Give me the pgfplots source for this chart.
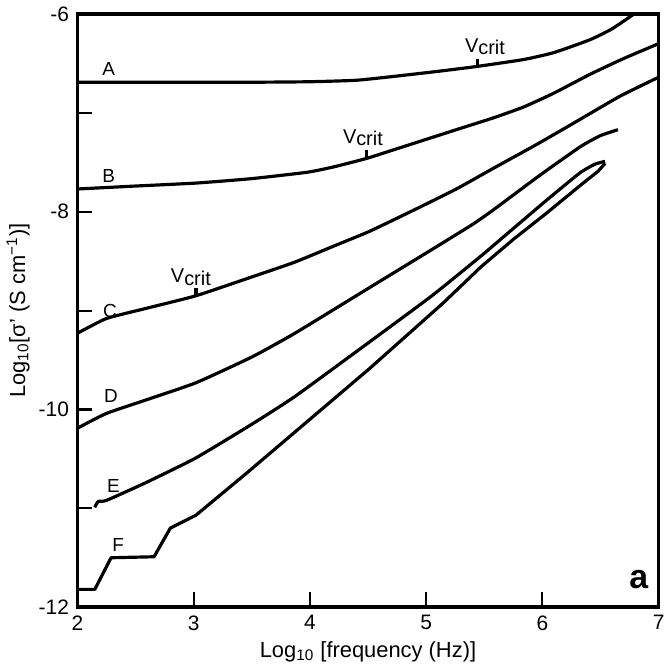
\documentclass[border=0pt]{standalone}
\usepackage{fontspec}
\setmainfont{Liberation Sans}
\usepackage{pgfplots}
\pgfplotsset{compat=1.18}

\newcommand{\vcrit}{V\raisebox{-0.2ex}{crit}}

\begin{document}
\begin{tikzpicture}
\begin{axis}[
  width=292pt, height=298pt, scale only axis,
  xmin=2, xmax=7, ymin=-12, ymax=-6,
  xtick={2,3,4,5,6,7}, xticklabels={2,3,4,5,6,7},
  ytick={-12,-11,-10,-9,-8,-7,-6},
  yticklabels={-12,,-10,,-8,,-6},
  tick pos=left, tick align=inside,
  major tick length=7.5pt,
  tick style={line width=1.1pt, black},
  every axis/.append style={line width=1.8pt},
  axis line style={line width=1.8pt},
  tick label style={font=\fontsize{10.5}{12}\selectfont},
  label style={font=\fontsize{11}{13}\selectfont},
  xlabel={Log\textsubscript{10} [frequency (Hz)]},
  ylabel={Log\textsubscript{10}[σ' (S cm\textsuperscript{−1})]},
  xlabel style={yshift=2pt},
  ylabel style={yshift=-3pt},
  every axis plot/.append style={smooth, tension=0.3},
  every axis plot post/.append style={black, mark=none, line width=1.6pt, line join=round},
  clip=true,
]
% A
\addplot coordinates {(2,-6.69) (2.5,-6.69) (3,-6.69) (3.5,-6.69) (4,-6.685) (4.4,-6.67)
  (4.73,-6.63) (5.1,-6.58) (5.44,-6.53) (5.84,-6.46) (6.1,-6.39) (6.41,-6.26) (6.6,-6.15) (6.8,-5.99)};
% B
\addplot coordinates {(2,-7.77) (2.5,-7.74) (3.02,-7.71) (3.5,-7.665) (3.98,-7.60) (4.21,-7.545)
  (4.49,-7.46) (4.73,-7.37) (5.26,-7.17) (5.58,-7.05) (5.84,-6.94) (6.1,-6.80) (6.41,-6.61)
  (6.7,-6.45) (7,-6.30)};
% C
\addplot coordinates {(2,-9.23) (2.25,-9.08) (2.6,-8.975) (3.02,-8.85) (3.5,-8.66) (3.87,-8.51)
  (4.2,-8.35) (4.51,-8.20) (4.90,-7.98) (5.26,-7.77) (5.58,-7.56) (5.95,-7.32) (6.26,-7.11)
  (6.67,-6.83) (7,-6.64)};
% D
\addplot coordinates {(2,-10.19) (2.25,-10.04) (2.6,-9.90) (3.02,-9.73) (3.5,-9.47) (3.87,-9.23)
  (4.51,-8.77) (4.90,-8.49) (5.15,-8.31) (5.41,-8.12) (5.58,-7.98) (5.98,-7.63) (6.33,-7.34)
  (6.5,-7.23) (6.65,-7.17)};
% E
\addplot coordinates {(2.15,-10.99) (2.18,-10.93) (2.25,-10.92) (2.59,-10.74) (3.02,-10.49)
  (3.5,-10.15) (3.87,-9.87) (4.51,-9.32) (5.05,-8.85) (5.47,-8.45) (5.75,-8.17) (6.03,-7.89)
  (6.32,-7.61) (6.45,-7.52) (6.54,-7.49)};
% F
\addplot[sharp plot] coordinates {(2,-11.82) (2.15,-11.82) (2.29,-11.50) (2.66,-11.49) (2.80,-11.20)
  (3.02,-11.07) (3.44,-10.66) (3.87,-10.23) (4.51,-9.59) (5.15,-8.92) (5.47,-8.56) (5.75,-8.28)
  (6.03,-8.02) (6.32,-7.74) (6.48,-7.59) (6.54,-7.51)};
% Vcrit ticks
\addplot[sharp plot, line width=1.1pt] coordinates {(5.44,-6.53) (5.44,-6.45)};
\addplot[sharp plot, line width=1.1pt] coordinates {(4.49,-7.47) (4.49,-7.38)};
\addplot[sharp plot, line width=1.1pt] coordinates {(3.02,-8.86) (3.02,-8.77)};

\begin{scope}[font=\fontsize{10}{12}\selectfont]
\node[anchor=base west, inner sep=0pt] at (axis cs:5.32,-6.39) {\vcrit};
\node[anchor=base west, inner sep=0pt] at (axis cs:4.27,-7.31) {\vcrit};
\node[anchor=base west, inner sep=0pt] at (axis cs:2.79,-8.72) {\vcrit};
\end{scope}
\begin{scope}[font=\fontsize{9.5}{11}\selectfont]
\node at (axis cs:2.27,-6.56) {A};
\node at (axis cs:2.27,-7.64) {B};
\node at (axis cs:2.28,-9.00) {C};
\node at (axis cs:2.29,-9.86) {D};
\node at (axis cs:2.31,-10.77) {E};
\node at (axis cs:2.35,-11.37) {F};
\end{scope}
\node[font=\fontsize{17}{18}\bfseries\selectfont] at (axis cs:6.83,-11.72) {a};
\end{axis}
\end{tikzpicture}
\end{document}
